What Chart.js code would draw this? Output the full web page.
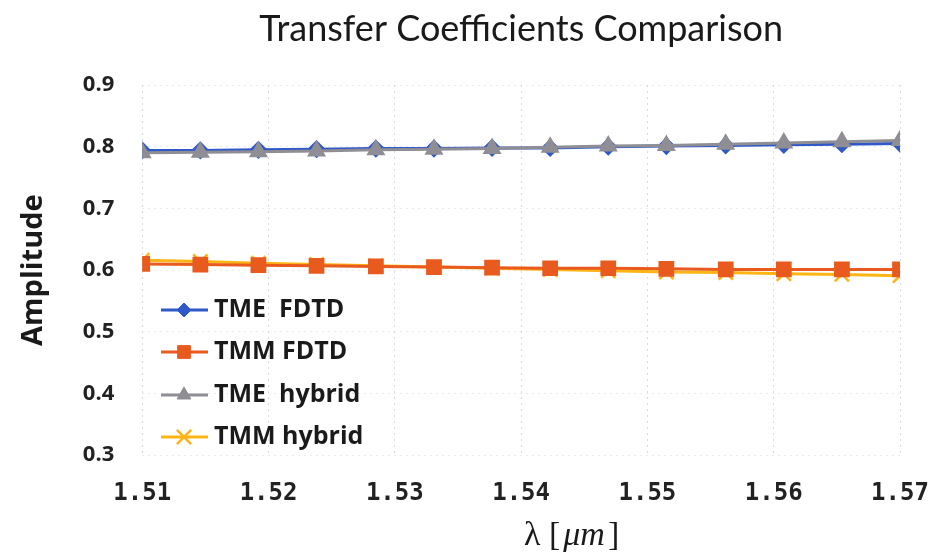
<!DOCTYPE html>
<html>
<head>
<meta charset="utf-8">
<title>Transfer Coefficients Comparison</title>
<script src="https://cdn.jsdelivr.net/npm/chart.js@4.4.1/dist/chart.umd.min.js"></script>
<style>
  html, body { margin: 0; padding: 0; background: #fff; }
  #wrap { width: 930px; height: 560px; }
</style>
</head>
<body>
<div id="wrap"><canvas id="chart"></canvas></div>
<script>
// wavelength samples (um)
const wavelengths = [1.5100, 1.5146, 1.5192, 1.5238, 1.5285, 1.5331, 1.5377, 1.5423, 1.5469, 1.5515, 1.5562, 1.5608, 1.5654, 1.5700];

// amplitudes
const tmeFdtd   = [0.794, 0.794, 0.795, 0.796, 0.797, 0.797, 0.798, 0.798, 0.800, 0.801, 0.802, 0.803, 0.804, 0.805];
const tmmFdtd   = [0.610, 0.609, 0.608, 0.607, 0.606, 0.605, 0.604, 0.603, 0.603, 0.602, 0.601, 0.601, 0.601, 0.601];
const tmeHybrid = [0.790, 0.791, 0.792, 0.793, 0.795, 0.796, 0.797, 0.799, 0.801, 0.802, 0.804, 0.806, 0.808, 0.810];
const tmmHybrid = [0.616, 0.614, 0.611, 0.609, 0.607, 0.605, 0.603, 0.601, 0.599, 0.597, 0.596, 0.594, 0.593, 0.591];

const seriesNames = ['TME  FDTD', 'TMM FDTD', 'TME  hybrid', 'TMM hybrid'];
const xTicks = [1.51, 1.52, 1.53, 1.54, 1.55, 1.56, 1.57];
const yTicks = [0.3, 0.4, 0.5, 0.6, 0.7, 0.8, 0.9];
const chartTitle = 'Transfer Coefficients Comparison';

function pts(ys) {
    return ys.map((y, i) => ({ x: wavelengths[i], y: y }));
}

// title, x-axis label (lambda [mu m]) and the in-plot legend
const extras = {
    id: 'extras',
    afterDraw(chart) {
        const ctx = chart.ctx;
        const area = chart.chartArea;
        ctx.save();

        // title, centred over the plot area
        ctx.fillStyle = '#1a1a1a';
        ctx.font = '36px Lato, "Open Sans", sans-serif';
        ctx.textAlign = 'center';
        ctx.textBaseline = 'middle';
        ctx.fillText(chartTitle, (area.left + area.right) / 2, 29);

        // x label: upright lambda and brackets, italic mu m
        const parts = [
            ['λ [', '34px "Liberation Serif", "DejaVu Serif", serif'],
            ['μm', 'italic 34px "Liberation Serif", "DejaVu Serif", serif'],
            [']', '34px "Liberation Serif", "DejaVu Serif", serif']
        ];
        ctx.textAlign = 'left';
        ctx.textBaseline = 'alphabetic';
        let tx = 524;
        parts.forEach(p => {
            ctx.font = p[1];
            ctx.fillText(p[0], tx, 545);
            tx += ctx.measureText(p[0]).width + 3;
        });

        // legend
        const x0 = 161, rowY = [310, 352, 395, 437];
        seriesNames.forEach((name, i) => {
            const ds = chart.data.datasets[i];
            const y = rowY[i];
            ctx.strokeStyle = ds.borderColor;
            ctx.lineWidth = ds.borderWidth;
            ctx.beginPath();
            ctx.moveTo(x0, y);
            ctx.lineTo(x0 + 47, y);
            ctx.stroke();
            ctx.fillStyle = ds.pointBackgroundColor;
            ctx.strokeStyle = ds.pointBorderColor;
            ctx.lineWidth = ds.pointBorderWidth || 1;
            Chart.helpers.drawPoint(ctx, {
                pointStyle: ds.pointStyle,
                radius: ds.pointRadius,
                borderWidth: ds.pointBorderWidth || 1
            }, x0 + 23, y);
            ctx.fillStyle = '#1a1a1a';
            ctx.font = 'bold 25px "Open Sans", Lato, sans-serif';
            ctx.textAlign = 'left';
            ctx.textBaseline = 'middle';
            ctx.fillText(name, x0 + 53, y);
        });
        ctx.restore();
    }
};

const ctx = document.getElementById('chart');
new Chart(ctx, {
    type: 'line',
    data: {
        datasets: [
            {
                label: seriesNames[0], data: pts(tmeFdtd), order: 4,
                borderColor: '#2f58c8', backgroundColor: '#2f58c8',
                pointBackgroundColor: '#2f58c8', pointBorderColor: '#2f58c8',
                borderWidth: 3, pointStyle: 'rectRot', pointRadius: 7
            },
            {
                label: seriesNames[1], data: pts(tmmFdtd), order: 2,
                borderColor: '#e85a1e', backgroundColor: '#e85a1e',
                pointBackgroundColor: '#e85a1e', pointBorderColor: '#e85a1e',
                borderWidth: 3, pointStyle: 'rect', pointRadius: 9
            },
            {
                label: seriesNames[2], data: pts(tmeHybrid), order: 1,
                borderColor: '#8e8e94', backgroundColor: '#8e8e94',
                pointBackgroundColor: '#8e8e94', pointBorderColor: '#8e8e94',
                borderWidth: 3, pointStyle: 'triangle', pointRadius: 8
            },
            {
                label: seriesNames[3], data: pts(tmmHybrid), order: 3,
                borderColor: '#fdb515', backgroundColor: '#fdb515',
                pointBackgroundColor: '#fdb515', pointBorderColor: '#fdb515',
                borderWidth: 3, pointStyle: 'crossRot', pointRadius: 10, pointBorderWidth: 2.5
            }
        ]
    },
    options: {
        responsive: true,
        maintainAspectRatio: false,
        animation: false,
        layout: { padding: { left: 10, right: 5, top: 85, bottom: 28 } },
        plugins: {
            legend: { display: false },
            tooltip: { enabled: false },
            title: { display: false }
        },
        scales: {
            x: {
                type: 'linear',
                min: xTicks[0],
                max: xTicks[xTicks.length - 1],
                afterBuildTicks: axis => { axis.ticks = xTicks.map(v => ({ value: v })); },
                afterFit: axis => { axis.paddingRight = 30; },
                ticks: {
                    color: '#222',
                    font: { family: '"DejaVu Sans Mono", monospace', size: 24, weight: 'bold' },
                    padding: 24,
                    maxRotation: 0,
                    callback: v => v.toFixed(2)
                },
                grid: { color: 'rgba(190,195,215,0.6)', drawTicks: false, lineWidth: 1 },
                border: { display: false, dash: [2, 4] }
            },
            y: {
                min: yTicks[0],
                max: yTicks[yTicks.length - 1],
                afterBuildTicks: axis => { axis.ticks = yTicks.map(v => ({ value: v })); },
                ticks: {
                    color: '#222',
                    font: { family: '"Open Sans", sans-serif', size: 22, weight: 'bold' },
                    padding: 28,
                    callback: v => v.toFixed(1)
                },
                grid: { color: 'rgba(215,218,230,0.5)', drawTicks: false, lineWidth: 1 },
                border: { display: false, dash: [2, 4] },
                title: {
                    display: true,
                    text: 'Amplitude',
                    color: '#1a1a1a',
                    font: { family: '"Open Sans", Lato, sans-serif', size: 29, weight: 'bold' },
                    padding: { top: 6, bottom: 4 }
                }
            }
        }
    },
    plugins: [extras]
});
</script>
</body>
</html>
